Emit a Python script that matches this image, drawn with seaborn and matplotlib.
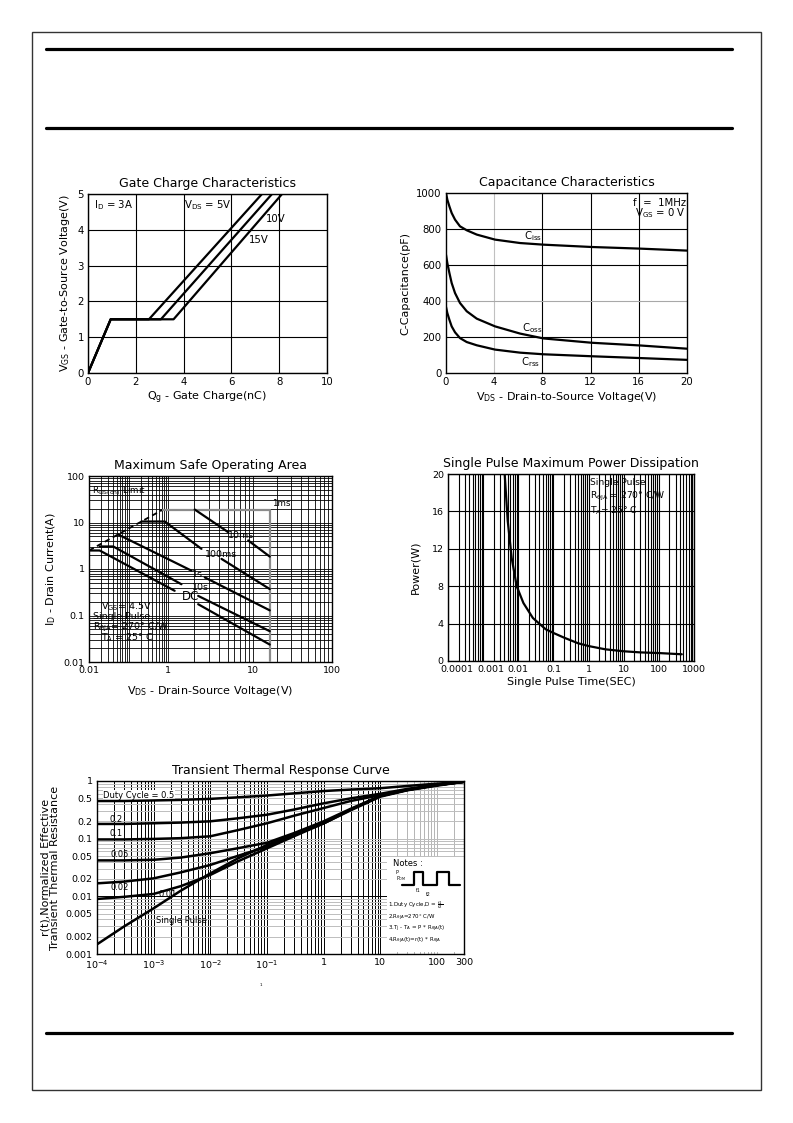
import numpy as np
import matplotlib
matplotlib.use("Agg")
import matplotlib.pyplot as plt
import seaborn as sns
from matplotlib.lines import Line2D
from matplotlib.patches import Rectangle
from matplotlib.ticker import FixedLocator, FixedFormatter, NullFormatter, NullLocator
from matplotlib.transforms import ScaledTranslation

# ---------------- data ----------------
# Gate charge (Qg nC, Vgs V)
gate_vgs = [0, 1.5, 1.5, 5]
gate_qg_5v = [0, 0.95, 2.55, 7.28]
gate_qg_10v = [0, 0.95, 3.05, 7.70]
gate_qg_15v = [0, 0.95, 3.58, 8.12]

# Capacitance (Vds V, pF)
cap_vds = [0, 0.11, 0.28, 0.47, 0.75, 1.16, 1.72, 2.55, 4.07, 6.15, 8.09, 12.1, 16.1, 20]
cap_ciss = [1000, 963, 926, 889, 852, 815, 793, 769, 741, 722, 713, 700, 691, 680]
cap_coss = [657, 611, 556, 500, 444, 389, 343, 302, 259, 219, 192, 168, 153, 135]
cap_crss = [367, 333, 296, 259, 226, 194, 172, 154, 130, 113, 104, 93, 83, 73]

# Safe operating area (Vds V, Id A); curves split into segments where labels sit
soa_rds_v = [0.01, 0.74]
soa_rds_i = [2.5, 19]
soa_1ms_v = [0.74, 16.2, 16.2]
soa_1ms_i = [19, 19, 0.01]
soa_10ms_v = [[2.05, 5.07], [8.72, 16.2]]
soa_10ms_i = [[19, 6.2], [4.11, 1.85]]
soa_100ms_v = [[0.21, 0.82, 2.46], [4.23, 16.2]]
soa_100ms_i = [[10.5, 10.5, 2.71], [1.65, 0.37]]
soa_1s_v = [[0.054, 1.88], [2.69, 16.2]]
soa_1s_i = [[5.54, 0.92], [0.66, 0.129]]
soa_10s_v = [[0.0186, 0.041, 1.43], [2.25, 16.2]]
soa_10s_i = [[3.05, 3.05, 0.47], [0.264, 0.046]]
soa_dc_v = [[0.01, 0.0186, 1.19], [2.25, 16.2]]
soa_dc_i = [[2.5, 2.5, 0.34], [0.175, 0.0237]]

# Single pulse power (s, W)
pwr_t = [0.0041, 0.005, 0.0065, 0.009, 0.014, 0.026, 0.06, 0.1, 0.2, 0.5, 1, 3, 10, 30, 100, 450]
pwr_w = [20, 15, 11, 8, 6.2, 4.6, 3.4, 3.0, 2.5, 1.9, 1.6, 1.25, 1.04, 0.92, 0.85, 0.72]

# Transient thermal response (s, r(t))
th_t = [1e-4, 3e-4, 1e-3, 3e-3, 1e-2, 3e-2, 0.1, 0.3, 1, 3, 10, 30, 100, 300]
th_d05 = [0.45, 0.45, 0.46, 0.47, 0.49, 0.52, 0.56, 0.61, 0.67, 0.71, 0.75, 0.82, 0.90, 0.97]
th_d02 = [0.18, 0.18, 0.185, 0.19, 0.20, 0.225, 0.26, 0.32, 0.41, 0.50, 0.60, 0.73, 0.86, 0.97]
th_d01 = [0.097, 0.097, 0.099, 0.102, 0.11, 0.14, 0.185, 0.25, 0.34, 0.45, 0.57, 0.71, 0.85, 0.97]
th_d005 = [0.042, 0.042, 0.043, 0.047, 0.056, 0.068, 0.085, 0.125, 0.20, 0.33, 0.55, 0.70, 0.85, 0.97]
th_d002 = [0.0168, 0.018, 0.0205, 0.026, 0.035, 0.05, 0.073, 0.115, 0.185, 0.32, 0.55, 0.70, 0.85, 0.97]
th_d001 = [0.009, 0.0098, 0.011, 0.015, 0.0235, 0.04, 0.068, 0.11, 0.184, 0.32, 0.55, 0.70, 0.85, 0.97]
th_single = [0.00147, 0.003, 0.0062, 0.0125, 0.025, 0.045, 0.078, 0.12, 0.184, 0.31, 0.535, 0.69, 0.83, 0.97]

pulse_t = [0, 12, 12, 21, 21, 35, 35, 47, 47, 58]
pulse_v = [0, 0, 1, 1, 0, 0, 1, 1, 0, 0]

# tick labels
soa_xticks = [0.01, 0.1, 1, 10, 100]
soa_xlabels = ["0.01", "", "1", "10", "100"]
soa_yticks = [0.01, 0.1, 1, 10, 100]
soa_ylabels = ["0.01", "0.1", "1", "10", "100"]
pwr_xticks = [1e-4, 1e-3, 1e-2, 1e-1, 1, 10, 100, 1000]
pwr_xlabels = ["0.0001", "0.001", "0.01", "0.1", "1", "10", "100", "1000"]
th_xticks = [1e-4, 1e-3, 1e-2, 1e-1, 1, 10, 100, 300]
th_xlabels = ["$10^{-4}$", "$10^{-3}$", "$10^{-2}$", "$10^{-1}$", "1", "10", "100", "300"]
th_yticks = [0.001, 0.002, 0.005, 0.01, 0.02, 0.05, 0.1, 0.2, 0.5, 1]
th_ylabels = ["0.001", "0.002", "0.005", "0.01", "0.02", "0.05", "0.1", "0.2", "0.5", "1"]

# ---------------- style ----------------
sns.set_theme(style="white")
plt.rcParams["font.family"] = ["DejaVu Sans"]
plt.rcParams["mathtext.default"] = "regular"
plt.rcParams["axes.edgecolor"] = "black"
plt.rcParams["axes.linewidth"] = 1.0
plt.rcParams["text.color"] = "black"
plt.rcParams["axes.labelcolor"] = "black"
plt.rcParams["xtick.color"] = "black"
plt.rcParams["ytick.color"] = "black"

W, H = 793, 1123
fig = plt.figure(figsize=(W / 100, H / 100), dpi=100)


def box(l, t, r, b):
    return [l / W, 1 - b / H, (r - l) / W, (b - t) / H]


def line(ax, x, y, color="black", lw=1.6, ls="-", z=3):
    sns.lineplot(x=x, y=y, ax=ax, color=color, linewidth=lw, linestyle=ls,
                 sort=False, estimator=None, legend=False, zorder=z)


def ticks_style(ax, size):
    ax.tick_params(axis="both", which="both", length=0, pad=3, labelsize=size)


# page frame
fig.add_artist(Rectangle((32 / W, 1 - 1090 / H), (761 - 32) / W, (1090 - 32) / H,
                         fill=False, edgecolor="#333333", lw=1.0,
                         transform=fig.transFigure))
for yy in [49, 128, 1033]:
    fig.add_artist(Line2D([46 / W, 732 / W], [1 - yy / H] * 2, lw=2.3,
                          color="black", transform=fig.transFigure))

TITLE = 9
LABEL = 8

# ---------------- 1. Gate charge ----------------
ax1 = fig.add_axes(box(88, 194, 327, 373))
for q in (gate_qg_5v, gate_qg_10v, gate_qg_15v):
    line(ax1, q, gate_vgs, lw=1.6)
ax1.set_xlim(0, 10)
ax1.set_ylim(0, 5)
ax1.set_xticks([0, 2, 4, 6, 8, 10])
ax1.set_yticks([0, 1, 2, 3, 4, 5])
ax1.grid(True, color="black", lw=0.8)
ticks_style(ax1, 7.3)
ax1.set_title("Gate Charge Characteristics", fontsize=TITLE, pad=5)
ax1.set_xlabel("Q$_g$ - Gate Charge(nC)", fontsize=LABEL, labelpad=2)
ax1.set_ylabel("V$_{GS}$ - Gate-to-Source Voltage(V)", fontsize=LABEL, labelpad=4)
ax1.text(0.25, 4.68, "I$_D$ = 3A", fontsize=7.3, va="center")
ax1.text(4.0, 4.7, "V$_{DS}$ = 5V", fontsize=7.3, va="center")
ax1.text(7.45, 4.3, "10V", fontsize=7.3, va="center")
ax1.text(6.75, 3.72, "15V", fontsize=7.3, va="center")

# ---------------- 2. Capacitance ----------------
ax2 = fig.add_axes(box(446, 193, 687, 373))
for c in (cap_ciss, cap_coss, cap_crss):
    line(ax2, cap_vds, c, lw=1.6)
ax2.set_xlim(0, 20)
ax2.set_ylim(0, 1000)
ax2.set_xticks([0, 4, 8, 12, 16, 20])
ax2.set_yticks([0, 200, 400, 600, 800, 1000])
for gx in [8, 12, 16]:
    ax2.axvline(gx, color="black", lw=0.8, zorder=1)
ax2.axvline(4, color="#c0c0c0", lw=0.8, zorder=1)
for gy in [200, 600, 800]:
    ax2.axhline(gy, color="black", lw=0.8, zorder=1)
ax2.axhline(400, color="#a8a8a8", lw=0.8, zorder=1)
ticks_style(ax2, 7.3)
ax2.set_title("Capacitance Characteristics", fontsize=TITLE, pad=5)
ax2.set_xlabel("V$_{DS}$ - Drain-to-Source Voltage(V)", fontsize=LABEL, labelpad=2)
ax2.set_ylabel("C-Capacitance(pF)", fontsize=LABEL, labelpad=4)
ax2.text(6.5, 762, "C$_{iss}$", fontsize=7.3, va="center")
ax2.text(6.3, 247, "C$_{oss}$", fontsize=7.3, va="center")
ax2.text(6.2, 62, "C$_{rss}$", fontsize=7.3, va="center")
ax2.text(19.9, 945, "f  =  1MHz", fontsize=7.3, ha="right", va="center")
ax2.text(19.9, 888, "V$_{GS}$ = 0 V", fontsize=7.3, ha="right", va="center")

# ---------------- 3. SOA ----------------


def soa_fwd(x):
    x = np.asarray(x, dtype=float)
    with np.errstate(divide="ignore", invalid="ignore"):
        lg = np.log10(np.where(x > 0, x, 1e-300))
    return np.where(lg < 0, (lg + 2) * 0.163,
                    np.where(lg < 1, 0.326 + lg * 0.35, 0.676 + (lg - 1) * 0.324))


def soa_inv(f):
    f = np.asarray(f, dtype=float)
    lg = np.where(f < 0.326, f / 0.163 - 2,
                  np.where(f < 0.676, (f - 0.326) / 0.35, 1 + (f - 0.676) / 0.324))
    return 10.0 ** lg


ax3 = fig.add_axes(box(89, 476, 332, 662))
ax3.set_xscale("function", functions=(soa_fwd, soa_inv))
ax3.set_yscale("log")
ax3.set_xlim(0.01, 100)
ax3.set_ylim(0.01, 100)
minors = [k * 10.0 ** d for d in range(-2, 2) for k in range(2, 10)]
ax3.xaxis.set_major_locator(FixedLocator(soa_xticks))
ax3.xaxis.set_major_formatter(FixedFormatter(soa_xlabels))
ax3.xaxis.set_minor_locator(FixedLocator(minors))
ax3.xaxis.set_minor_formatter(NullFormatter())
ax3.yaxis.set_major_locator(FixedLocator(soa_yticks))
ax3.yaxis.set_major_formatter(FixedFormatter(soa_ylabels))
ax3.yaxis.set_minor_locator(FixedLocator(minors))
ax3.yaxis.set_minor_formatter(NullFormatter())
ax3.grid(True, which="both", color="black", lw=0.6)
ticks_style(ax3, 6.8)
line(ax3, soa_rds_v, soa_rds_i, lw=1.3, ls=(0, (3, 2)))
line(ax3, soa_1ms_v, soa_1ms_i, color="#8c8c8c", lw=1.6)
for vs, is_ in [(soa_10ms_v, soa_10ms_i), (soa_100ms_v, soa_100ms_i),
                (soa_1s_v, soa_1s_i), (soa_10s_v, soa_10s_i), (soa_dc_v, soa_dc_i)]:
    for v, i in zip(vs, is_):
        line(ax3, v, i, lw=1.6)
ax3.set_title("Maximum Safe Operating Area", fontsize=TITLE, pad=5)
ax3.set_xlabel("V$_{DS}$ - Drain-Source Voltage(V)", fontsize=LABEL, labelpad=6)
ax3.set_ylabel("I$_D$ - Drain Current(A)", fontsize=LABEL, labelpad=4)
fs3 = 6.8
ax3.text(0.012, 48, "R$_{DS(on)}$ Limit", fontsize=6.3, va="center")
ax3.text(17.5, 25, "1ms", fontsize=6.3, va="center")
ax3.text(5.1, 5.3, "10ms", fontsize=fs3, va="center")
ax3.text(2.69, 2.1, "100ms", fontsize=fs3, va="center")
ax3.text(1.9, 0.78, "1s", fontsize=fs3, va="center")
ax3.text(1.9, 0.40, "10s", fontsize=fs3, va="center")
ax3.text(1.45, 0.257, "DC", fontsize=8.5, va="center")
ax3.text(0.0205, 0.153, "V$_{GS}$= 4.5V", fontsize=fs3, va="center")
ax3.text(0.0125, 0.094, "Single Pulse", fontsize=fs3, va="center")
ax3.text(0.0125, 0.056, "R$_{\\theta JA}$= 270° C/W", fontsize=fs3, va="center")
ax3.text(0.02, 0.033, "T$_A$ = 25° C", fontsize=fs3, va="center")

# ---------------- 4. Power ----------------
ax4 = fig.add_axes(box(448, 474, 694, 661))
ax4.set_xscale("log")
ax4.set_xlim(1e-4, 1000)
ax4.set_ylim(0, 20)
line(ax4, pwr_t, pwr_w, lw=1.6)
ax4.xaxis.set_major_locator(FixedLocator(pwr_xticks))
ax4.xaxis.set_major_formatter(FixedFormatter(pwr_xlabels))
pminors = [k * 10.0 ** d for d in range(-4, 3) for k in range(2, 10)]
ax4.xaxis.set_minor_locator(FixedLocator(pminors))
ax4.xaxis.set_minor_formatter(NullFormatter())
ax4.set_yticks([0, 4, 8, 12, 16, 20])
ax4.grid(True, which="both", axis="x", color="black", lw=0.8)
ax4.grid(True, which="major", axis="y", color="black", lw=0.8)
ticks_style(ax4, 6.8)
for lab, dx in zip(ax4.get_xticklabels()[:2], [0.09, 0.08]):
    lab.set_transform(lab.get_transform() + ScaledTranslation(dx, 0, fig.dpi_scale_trans))
ax4.set_title("Single Pulse Maximum Power Dissipation", fontsize=TITLE, pad=5)
ax4.set_xlabel("Single Pulse Time(SEC)", fontsize=LABEL, labelpad=2)
ax4.set_ylabel("Power(W)", fontsize=LABEL, labelpad=8)
ax4.text(1.1, 19.1, "Single Pulse", fontsize=6.6, va="center")
ax4.text(1.1, 17.6, "R$_{\\theta JA}$ = 270° C/W", fontsize=6.6, va="center")
ax4.text(1.1, 16.1, "T$_A$= 25° C", fontsize=6.6, va="center")

# ---------------- 5. Thermal ----------------
ax5 = fig.add_axes(box(97, 781, 464, 954))
ax5.set_xscale("log")
ax5.set_yscale("log")
ax5.set_xlim(1e-4, 300)
ax5.set_ylim(0.001, 1)
tminors = [k * 10.0 ** d for d in range(-4, 3) for k in range(1, 10) if k * 10.0 ** d <= 300]
for gx in tminors:
    ax5.axvline(gx, color="black" if gx <= 10.5 else "#b4b4b4", lw=0.7, zorder=1)
yminors = [k * 10.0 ** d for d in range(-3, 0) for k in range(1, 10)]
for gy in yminors:
    ax5.axhline(gy, color="black" if abs(gy - 0.01) < 1e-9 else "#bdbdbd", lw=0.7, zorder=1)
ax5.add_patch(Rectangle((12.9, 0.00108), 300 - 12.9, 0.049 - 0.00108,
                        facecolor="white", edgecolor="none", zorder=1.5))
for c in (th_d05, th_d02, th_d01, th_d005, th_d002, th_d001, th_single):
    line(ax5, th_t, c, lw=1.8)
ax5.xaxis.set_major_locator(FixedLocator(th_xticks))
ax5.xaxis.set_major_formatter(FixedFormatter(th_xlabels))
ax5.xaxis.set_minor_locator(NullLocator())
ax5.yaxis.set_major_locator(FixedLocator(th_yticks))
ax5.yaxis.set_major_formatter(FixedFormatter(th_ylabels))
ax5.yaxis.set_minor_locator(NullLocator())
ticks_style(ax5, 6.8)
ax5.set_title("Transient Thermal Response Curve", fontsize=TITLE, pad=5)
ax5.set_ylabel("r(t),Normalized Effective\nTransient Thermal Resistance",
               fontsize=LABEL, linespacing=0.95)
ax5.yaxis.set_label_coords(-0.1, 0.5)
fs5 = 6
ax5.text(1.28e-4, 0.475, "Duty Cycle = 0.5", fontsize=fs5, va="bottom", zorder=2.5,
         bbox=dict(facecolor="white", edgecolor="none", pad=0.3))
ax5.text(1.67e-4, 0.218, "0.2", fontsize=fs5, va="center")
ax5.text(1.67e-4, 0.122, "0.1", fontsize=fs5, va="center")
ax5.text(1.75e-4, 0.053, "0.05", fontsize=fs5, va="center")
ax5.text(1.75e-4, 0.0145, "0.02", fontsize=fs5, va="center")
ax5.text(1.2e-3, 0.0109, "0.01", fontsize=fs5, va="center")
ax5.text(1.1e-3, 0.0038, "Single Pulse", fontsize=fs5, va="center")

# notes
fig.text(393 / W, 1 - 864 / H, "Notes :", fontsize=6, va="center")
axp = fig.add_axes(box(400, 869, 462, 888))
sns.lineplot(x=pulse_t, y=pulse_v, ax=axp, color="black", linewidth=1.6,
             sort=False, estimator=None, legend=False)
axp.set_xlim(-2, 60)
axp.set_ylim(-0.2, 1.2)
axp.axis("off")
fig.text(396 / W, 1 - 872 / H, "P", fontsize=3.5, va="center")
fig.text(396 / W, 1 - 879 / H, "P$_{DM}$", fontsize=3.5, va="center")
fig.text(416 / W, 1 - 891 / H, "t1", fontsize=3.3, va="center")
fig.text(426 / W, 1 - 895 / H, "t2", fontsize=3.3, va="center")
fig.text(388 / W, 1 - 905 / H, "1.Duty Cycle,D = $\\frac{t1}{t2}$", fontsize=4, va="center")
fig.text(388 / W, 1 - 918 / H, "2.R$_{\\theta JA}$=270° C/W", fontsize=4, va="center")
fig.text(388 / W, 1 - 929 / H, "3.T$_J$ - T$_A$ = P * R$_{\\theta JA}$(t)", fontsize=4, va="center")
fig.text(388 / W, 1 - 941 / H, "4.R$_{\\theta JA}$(t)=r(t) * R$_{\\theta JA}$", fontsize=4, va="center")
fig.text(261 / W, 1 - 985 / H, "1", fontsize=3, ha="center", va="center")

fig.savefig("out.png", dpi=100)
